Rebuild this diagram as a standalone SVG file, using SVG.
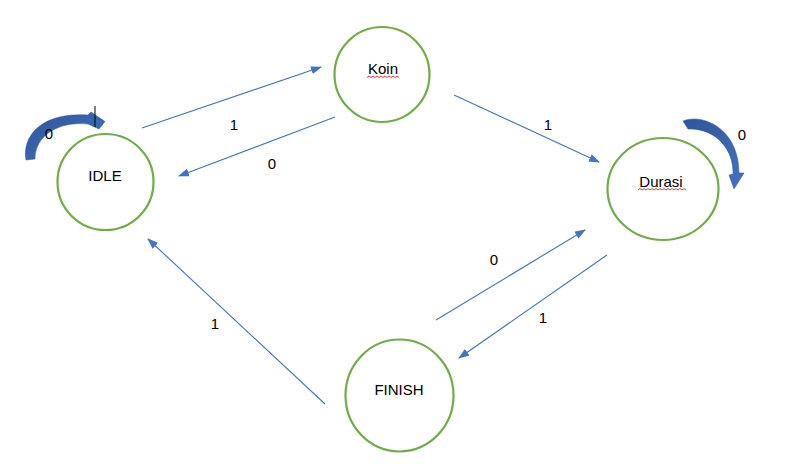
<svg xmlns="http://www.w3.org/2000/svg" width="787" height="472" viewBox="0 0 787 472">
<style>
.node{fill:#fff;stroke:#70AD47;stroke-width:2.2}
.lbl{font-family:"Liberation Sans",Arial,sans-serif;font-size:15px;fill:#000;text-anchor:middle}
.edge{stroke:#4472C4;stroke-width:1.1;fill:none;marker-end:url(#ah)}
.loop{fill:url(#lg);stroke:#2F5597;stroke-width:0.5}
.sq{fill:none;stroke:#E02020;stroke-width:0.9}
</style>
<defs>
<marker id="ah" markerWidth="11" markerHeight="8" refX="10" refY="4" orient="auto" markerUnits="userSpaceOnUse">
<path d="M0,0 L11,4 L0,8 z" fill="#4472C4"/>
</marker>
<linearGradient id="lg" x1="0" y1="0" x2="1" y2="1">
<stop offset="0" stop-color="#2F5597"/>
<stop offset="1" stop-color="#4472C4"/>
</linearGradient>
</defs>
<rect width="787" height="472" fill="#fff"/>
<g id="connectors">
<line class="edge" x1="142" y1="128" x2="321" y2="67"/>
<line class="edge" x1="335" y1="117" x2="179" y2="176"/>
<line class="edge" x1="454" y1="95" x2="599" y2="162"/>
<line class="edge" x1="436" y1="320" x2="585" y2="230"/>
<line class="edge" x1="607" y1="255" x2="459" y2="358"/>
<line class="edge" x1="325" y1="404" x2="148" y2="239"/>
<path class="loop" d="M26,160 C22,137 40,112 88,115 L91,112 L105,121.5 L99,129 L88,124 C58,121 35,136 35,159 Z"/>
<path class="loop" d="M683,121 C702,113 739,128 739,173 L744,173 L734,189 L729,175 L733,174 C734,150 716,128 688,129 Z"/>
<text class="lbl" x="49" y="139">0</text>
<text class="lbl" x="234" y="130">1</text>
<text class="lbl" x="272" y="169">0</text>
<text class="lbl" x="548" y="130">1</text>
<text class="lbl" x="742" y="140">0</text>
<text class="lbl" x="494" y="265">0</text>
<text class="lbl" x="543" y="323">1</text>
<text class="lbl" x="215" y="329">1</text>
</g>
<line x1="95" y1="106" x2="95" y2="127" stroke="#000" stroke-width="1"/>
<g id="IDLE">
<circle class="node" cx="105.5" cy="182" r="48"/>
<text class="lbl" x="105" y="181">IDLE</text>
</g>
<g id="Koin">
<circle class="node" cx="382" cy="74.5" r="47.5"/>
<text class="lbl" x="383" y="74">Koin</text>
<path class="sq" d="M367,77.5 l2,-1.5 l2,1.5 l2,-1.5 l2,1.5 l2,-1.5 l2,1.5 l2,-1.5 l2,1.5 l2,-1.5 l2,1.5 l2,-1.5 l2,1.5 l2,-1.5 l2,1.5 l2,-1.5 l2,1.5"/>
</g>
<g id="Durasi">
<ellipse class="node" cx="663" cy="189" rx="55.5" ry="51"/>
<text class="lbl" x="661" y="187">Durasi</text>
<path class="sq" d="M638,190 l2,-1.5 l2,1.5 l2,-1.5 l2,1.5 l2,-1.5 l2,1.5 l2,-1.5 l2,1.5 l2,-1.5 l2,1.5 l2,-1.5 l2,1.5 l2,-1.5 l2,1.5 l2,-1.5 l2,1.5 l2,-1.5 l2,1.5 l2,-1.5 l2,1.5 l2,-1.5 l2,1.5 l2,-1.5 l2,1.5"/>
</g>
<g id="FINISH">
<ellipse class="node" cx="399.5" cy="395.5" rx="54" ry="56"/>
<text class="lbl" x="399" y="395">FINISH</text>
</g>
</svg>
